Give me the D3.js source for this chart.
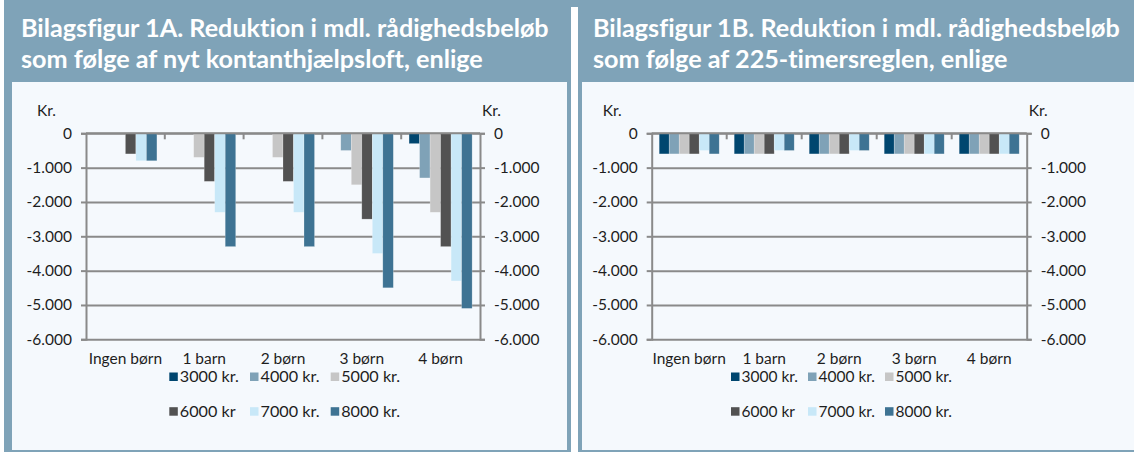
<!DOCTYPE html>
<html>
<head>
<meta charset="utf-8">
<script src="https://cdn.jsdelivr.net/npm/d3@7"></script>
<style>
  body { margin: 0; background: #fff; }
  svg { display: block; }
  text { font-family: Lato, "Open Sans", sans-serif; fill: #1e1e1e; font-variant-ligatures: none; font-feature-settings: "liga" 0; }
</style>
</head>
<body>
<div id="chart-area"></div>
<script>
// categories and series
var categories = ["Ingen børn", "1 barn", "2 børn", "3 børn", "4 børn"];
var seriesNames = ["3000 kr.", "4000 kr.", "5000 kr.", "6000 kr", "7000 kr.", "8000 kr."];
var seriesColors = ["#00466f", "#7fa2b7", "#c6c6c6", "#525252", "#c8e8f8", "#3e7393"];
var yTicks = [0, -1000, -2000, -3000, -4000, -5000, -6000];

// Figur 1A: kontanthjælpsloft (one row per series, one value per category)
var valuesA3000 = [0, 0, 0, 0, -300];
var valuesA4000 = [0, 0, 0, -500, -1300];
var valuesA5000 = [0, -700, -700, -1500, -2300];
var valuesA6000 = [-600, -1400, -1400, -2500, -3300];
var valuesA7000 = [-800, -2300, -2300, -3500, -4300];
var valuesA8000 = [-800, -3300, -3300, -4500, -5100];

// Figur 1B: 225-timersreglen
var valuesB3000 = [-600, -600, -600, -600, -600];
var valuesB4000 = [-600, -600, -600, -600, -600];
var valuesB5000 = [-600, -600, -600, -600, -600];
var valuesB6000 = [-600, -600, -600, -600, -600];
var valuesB7000 = [-500, -500, -500, -600, -600];
var valuesB8000 = [-600, -500, -500, -600, -600];

var titleA = ["Bilagsfigur 1A. Reduktion i mdl. rådighedsbeløb", "som følge af nyt kontanthjælpsloft, enlige"];
var titleB = ["Bilagsfigur 1B. Reduktion i mdl. rådighedsbeløb", "som følge af 225-timersreglen, enlige"];

var W = 1134, H = 452;
var headerBlue = "#7fa3b8", innerBg = "#f5f9fd", gridColor = "#8a8a8a";

var locale = d3.formatLocale({ decimal: ",", thousands: ".", grouping: [3], currency: ["", ""], minus: "-" });
var fmt = locale.format(",d");

var svg = d3.select("#chart-area")
  .append("svg")
    .attr("width", W)
    .attr("height", H);

// panels
svg.append("rect").attr("x", 4).attr("y", 0).attr("width", 567).attr("height", H).attr("fill", headerBlue);
svg.append("rect").attr("x", 571).attr("y", 0).attr("width", 7).attr("height", 7).attr("fill", headerBlue);
svg.append("rect").attr("x", 578).attr("y", 0).attr("width", W - 578).attr("height", H).attr("fill", headerBlue);
svg.append("rect").attr("x", 12).attr("y", 82).attr("width", 555).attr("height", 368).attr("fill", innerBg);
svg.append("rect").attr("x", 582).attr("y", 82).attr("width", W - 582).attr("height", 368).attr("fill", innerBg);

function drawTitle(lines, x) {
  lines.forEach(function(line, i) {
    svg.append("text")
      .attr("x", x)
      .attr("y", 37 + i * 31)
      .attr("font-size", "25.2px")
      .attr("font-weight", 700)
      .style("fill", "#fff")
      .text(line);
  });
}

function drawChart(series, o) {
  var g = svg.append("g");

  var x0 = d3.scaleBand()
    .domain(categories)
    .range([o.left, o.right])
    .paddingInner(0.2)
    .paddingOuter(0.1);
  var x1 = d3.scaleBand()
    .domain(seriesNames)
    .range([0, x0.bandwidth()]);
  var y = d3.scaleLinear()
    .domain([-6000, 0])
    .range([339.3, 133.3]);

  // gridlines
  g.append("g")
    .attr("transform", "translate(" + o.left + ",0)")
    .call(d3.axisLeft(y).tickValues(yTicks).tickSize(-(o.right - o.left)).tickFormat(""))
    .call(function(a) {
      a.select(".domain").remove();
      a.selectAll("line").attr("stroke", gridColor).attr("stroke-width", 2);
    });

  // bars
  series.forEach(function(vals, s) {
    g.append("g")
      .selectAll("rect")
      .data(vals)
      .enter()
      .append("rect")
        .attr("x", function(d, i) { return x0(categories[i]) + x1(seriesNames[s]); })
        .attr("y", y(0))
        .attr("width", x1.bandwidth())
        .attr("height", function(d) { return y(d) - y(0); })
        .attr("fill", seriesColors[s])
        .attr("stroke", "#ffffff")
        .attr("stroke-opacity", 0.35)
        .attr("stroke-width", 0.6);
  });

  // zero line + category ticks
  g.append("line")
    .attr("x1", o.left).attr("x2", o.right)
    .attr("y1", y(0)).attr("y2", y(0))
    .attr("stroke", gridColor).attr("stroke-width", 2);
  var step = x0.step();
  d3.range(1, categories.length).forEach(function(i) {
    var bx = o.left + i * step;
    g.append("line")
      .attr("x1", bx).attr("x2", bx)
      .attr("y1", y(0)).attr("y2", y(0) + 6)
      .attr("stroke", gridColor).attr("stroke-width", 2);
  });

  // left axis
  g.append("g")
    .attr("transform", "translate(" + o.left + ",0)")
    .call(d3.axisLeft(y).tickValues(yTicks).tickSize(5).tickPadding(9).tickFormat(fmt))
    .call(function(a) {
      a.select(".domain").attr("stroke", gridColor).attr("stroke-width", 2);
      a.selectAll("line").attr("stroke", gridColor).attr("stroke-width", 2);
      a.selectAll("text").attr("font-size", "15.5px").attr("font-family", "Lato").style("fill", "#1e1e1e");
    });

  // right axis
  g.append("g")
    .attr("transform", "translate(" + o.right + ",0)")
    .call(d3.axisRight(y).tickValues(yTicks).tickSize(5).tickPadding(9).tickFormat(fmt))
    .call(function(a) {
      a.select(".domain").attr("stroke", gridColor).attr("stroke-width", 2);
      a.selectAll("line").attr("stroke", gridColor).attr("stroke-width", 2);
      a.selectAll("text").attr("font-size", "15.5px").attr("font-family", "Lato").style("fill", "#1e1e1e");
    });

  // unit labels
  g.append("text").attr("x", o.left - 30).attr("y", 116).attr("text-anchor", "end")
    .attr("font-size", "15.5px").text("Kr.");
  g.append("text").attr("x", o.right + 2).attr("y", 116)
    .attr("font-size", "15.5px").text("Kr.");

  // category labels
  g.selectAll(".cat")
    .data(categories)
    .enter()
    .append("text")
      .attr("class", "cat")
      .attr("x", function(d) { return x0(d) + x0.bandwidth() / 2; })
      .attr("y", 364)
      .attr("text-anchor", "middle")
      .attr("font-size", "15.5px")
      .text(function(d) { return d; });

  // legend
  var legend = g.append("g");
  seriesNames.forEach(function(name, i) {
    var row = Math.floor(i / 3), col = i % 3;
    var lx = o.legendX + col * o.legendStep;
    var ly = 372.5 + row * 34.7;
    legend.append("rect")
      .attr("x", lx).attr("y", ly)
      .attr("width", 8.5).attr("height", 8.5)
      .attr("fill", seriesColors[i]);
    legend.append("text")
      .attr("x", lx + 10.5).attr("y", ly + 9.8)
      .attr("font-size", o.legendFont)
      .text(name);
  });
}

drawTitle(titleA, 21);
drawTitle(titleB, 593);

drawChart([valuesA3000, valuesA4000, valuesA5000, valuesA6000, valuesA7000, valuesA8000],
  { left: 86, right: 480, legendX: 169.3, legendStep: 80.7, legendFont: "16.2px" });
drawChart([valuesB3000, valuesB4000, valuesB5000, valuesB6000, valuesB7000, valuesB8000],
  { left: 651.7, right: 1026.7, legendX: 731, legendStep: 77, legendFont: "15.5px" });
</script>
</body>
</html>
